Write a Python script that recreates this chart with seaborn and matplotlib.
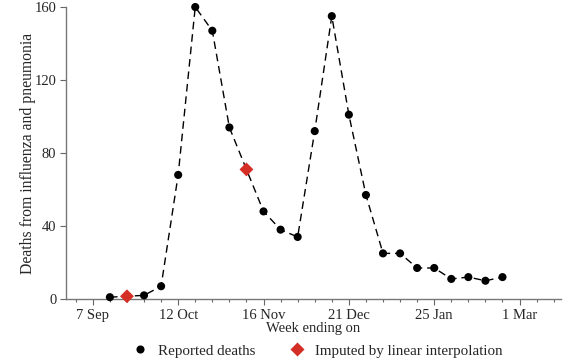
import pandas as pd
import matplotlib.pyplot as plt
import matplotlib.dates as mdates
from matplotlib.ticker import FixedLocator
import seaborn as sns

# Weekly deaths from influenza and pneumonia (week ending on Saturday)
week_ending = [
    "1918-09-14", "1918-09-21", "1918-09-28", "1918-10-05", "1918-10-12",
    "1918-10-19", "1918-10-26", "1918-11-02", "1918-11-09", "1918-11-16",
    "1918-11-23", "1918-11-30", "1918-12-07", "1918-12-14", "1918-12-21",
    "1918-12-28", "1919-01-04", "1919-01-11", "1919-01-18", "1919-01-25",
    "1919-02-01", "1919-02-08", "1919-02-15", "1919-02-22",
]
deaths = [1, 1.5, 2, 7, 68, 160, 147, 94, 71, 48, 38, 34, 92, 155, 101,
          57, 25, 25, 17, 17, 11, 12, 10, 12]
imputed = ["1918-09-21", "1918-11-09"]

tick_dates = ["1918-09-07", "1918-10-12", "1918-11-16", "1918-12-21",
              "1919-01-25", "1919-03-01"]
tick_labels = ["7 Sep", "12 Oct", "16 Nov", "21 Dec", "25 Jan", "1 Mar"]
y_ticks = [0, 40, 80, 120, 160]

rep_label = "Reported deaths"
imp_label = "Imputed by linear interpolation"

df = pd.DataFrame({"week": pd.to_datetime(week_ending), "deaths": deaths})
df["kind"] = [imp_label if w in imputed else rep_label for w in week_ending]

sns.set_style("ticks")
plt.rcParams["font.family"] = ["Liberation Serif", "DejaVu Serif"]

fig = plt.figure(figsize=(5.81, 3.63), dpi=100)
ax = fig.add_axes([0.1136, 0.1763, 0.852, 0.8044])

sns.lineplot(data=df, x="week", y="deaths", ax=ax, color="black",
             linewidth=1.0, linestyle=(0, (5.5, 3.5)), zorder=1)
sns.scatterplot(data=df, x="week", y="deaths", hue="kind", style="kind",
                hue_order=[rep_label, imp_label], style_order=[rep_label, imp_label],
                palette={rep_label: "black", imp_label: "#d42f27"},
                markers={rep_label: "o", imp_label: "D"},
                size="kind", sizes={rep_label: 34, imp_label: 50},
                size_order=[rep_label, imp_label],
                edgecolor="none", ax=ax, zorder=3, clip_on=False)

ax.set_ylim(0, 160)
ax.set_xlim(pd.Timestamp("1918-08-27"), pd.Timestamp("1919-03-18"))
ax.set_yticks(y_ticks)
ax.xaxis.set_major_locator(FixedLocator(mdates.date2num(pd.to_datetime(tick_dates))))
ax.set_xticklabels(tick_labels)
ax.xaxis.set_minor_locator(mdates.WeekdayLocator(byweekday=mdates.SA))

ax.set_xlabel("Week ending on", fontsize=10.5, labelpad=0)
ax.set_ylabel("Deaths from influenza and pneumonia", fontsize=11.3, labelpad=-1)
ax.tick_params(axis="both", labelsize=10.5, color="#666666", width=0.8, length=4, pad=3)
ax.tick_params(axis="x", which="minor", color="#666666", width=0.8, length=2.5)

sns.despine(ax=ax)
for side in ["left", "bottom"]:
    ax.spines[side].set_color("#777777")
    ax.spines[side].set_linewidth(1.0)

sns.move_legend(ax, "center", bbox_to_anchor=(0.5, -0.178), ncol=2,
                frameon=False, title=None, fontsize=10.8,
                handletextpad=0.2, columnspacing=1.8)

plt.savefig("out.png", dpi=100)
plt.close()
